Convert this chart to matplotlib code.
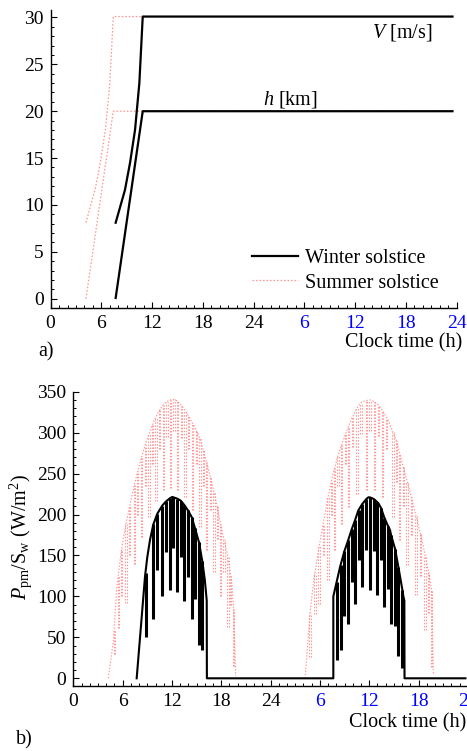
import matplotlib
matplotlib.use("Agg")
import matplotlib.pyplot as plt
from matplotlib.ticker import MultipleLocator
import numpy as np

plt.rcParams['font.family'] = ['Liberation Serif', 'DejaVu Serif']
plt.rcParams['mathtext.fontset'] = 'custom'
plt.rcParams['mathtext.rm'] = 'Liberation Serif'
plt.rcParams['mathtext.it'] = 'Liberation Serif:italic'

# ---------------- data: panel a ----------------
xtick_vals = [0, 6, 12, 18, 24, 30, 36, 42, 48]
xtick_labels = ['0', '6', '12', '18', '24', '6', '12', '18', '24']
xtick_colors = ['black'] * 5 + ['blue'] * 4

winter_V_t = [7.69, 8.79, 9.39, 9.98, 10.49, 10.89, 47.5]
winter_V = [8.1, 11.6, 14.5, 18.0, 23.0, 30.1, 30.1]
winter_h_t = [7.69, 10.89, 47.5]
winter_h = [0.07, 20.0, 20.0]
summer_V_t = [4.18, 5.3, 5.9, 6.5, 7.0, 7.41, 47.5]
summer_V = [8.1, 11.8, 14.6, 18.2, 23.0, 30.1, 30.1]
summer_h_t = [4.18, 7.41, 47.5]
summer_h = [0.0, 20.0, 20.0]

# ---------------- data: panel b ----------------
# winter envelope (two days + night)
w_env_t = [7.71, 8.72, 9.0, 9.33, 9.74, 10.22, 10.83, 11.28, 11.77, 12.04, 12.62,
           13.06, 13.47, 13.95, 14.40, 14.81, 15.29, 15.69, 16.0, 16.23, 16.25,
           31.63, 31.63, 32.04, 32.45, 32.97, 33.45, 33.87, 34.27, 34.67, 35.16,
           35.65, 35.89, 36.09, 36.54, 37.1, 37.43, 37.84, 38.28, 38.53, 38.65,
           39.14, 39.54, 40.03, 40.15, 40.27, 40.29, 47.7]
w_env_p = [0, 124, 148, 169, 188, 201, 211, 216, 220, 221.5, 219.5,
           217, 212, 205, 197, 183, 166, 143, 120, 95, 0,
           0, 100, 118, 136, 155, 169, 182, 193, 205, 213,
           219, 221, 221, 219, 214, 208, 196, 186, 181, 175,
           158, 136, 108, 100, 95, 0, 0]
# winter shading spikes
w_sp_t = [8.81, 9.74, 10.22, 10.83, 11.28, 11.77, 12.17, 12.62, 13.06, 13.47,
          13.95, 14.40, 14.81, 15.29, 15.69,
          32.04, 32.53, 32.97, 33.45, 33.87, 34.27, 34.8, 35.16, 35.65, 36.09,
          36.54, 36.98, 37.43, 37.84, 38.28, 38.65, 39.14, 39.54, 40.03]
w_sp_lo = [51, 72, 132, 100, 154, 108, 159, 106, 148, 95,
           124, 73, 97, 41, 34,
           22, 34, 76, 66, 118, 91, 144, 112, 157, 108,
           156, 102, 144, 87, 109, 66, 64, 27, 12]
w_sp_hi = [128, 188, 201, 211, 216, 220, 221, 219.5, 217, 212,
           205, 197, 183, 166, 143,
           118, 138, 155, 169, 182, 193, 206, 213, 219, 221,
           219, 215, 208, 196, 186, 175, 158, 136, 108]

# summer envelope, day 1 and day 2
s1_env_t = [4.26, 4.87, 5.28, 5.7, 6.08, 6.5, 6.9, 7.3, 7.71, 8.1, 8.5, 8.9, 9.33,
            9.8, 10.34, 10.85, 11.36, 12.1, 12.6, 13.0, 13.4, 13.8, 14.2, 14.8,
            15.4, 15.8, 16.2, 16.6, 17.0, 17.45, 17.85, 18.25, 18.66, 19.0, 19.27,
            19.5, 19.75]
s1_env_p = [0, 45, 110, 145, 171, 193, 212, 231, 248, 263, 277, 290, 301,
            314, 325, 333, 338, 341, 339, 335, 330, 324, 317, 306,
            293, 279, 264, 249, 232, 212, 191, 173, 155, 136, 118,
            85, 3]
s2_env_t = [28.2, 28.8, 29.2, 29.8, 30.4, 31.0, 31.6, 32.2, 32.85, 33.4, 34.0, 34.5,
            34.9, 35.5, 36.1, 36.6, 37.2, 37.8, 38.3, 38.8, 39.3, 39.8, 40.35,
            40.9, 41.4, 41.9, 42.4, 42.7, 43.0, 43.3, 43.6, 43.8]
s2_env_p = [0, 80, 116, 155, 189, 222, 250, 272, 291, 306, 320, 330,
            336, 339, 340, 338, 333, 324, 315, 303, 290, 271, 250,
            230, 210, 190, 169, 155, 140, 125, 108, 4]
# summer shading spikes
s_sp_t = [5.0, 5.47, 5.9, 6.41, 6.85, 7.42, 7.85, 8.32, 8.75, 9.21, 9.65, 10.06,
          10.5, 10.95, 11.4, 11.85, 12.25, 12.7, 13.15, 13.6, 14.05, 14.5, 14.95,
          15.4, 15.8, 16.2, 16.65, 17.1, 17.5, 17.9, 18.35, 18.8, 19.15, 19.5,
          28.8, 29.4, 29.9, 30.4, 31.0, 31.4, 31.8, 32.2, 32.65, 33.1, 33.5,
          34.0, 34.5, 35.0, 35.7, 36.1, 36.6, 37.1, 37.6, 38.1, 38.9, 39.3,
          39.7, 40.15, 40.6, 41.1, 41.7, 42.2, 42.8, 43.2, 43.6]
s_sp_lo = [30, 61, 100, 92, 150, 140, 200, 173, 235, 197, 262, 216,
           280, 230, 295, 232, 302, 230, 294, 222, 280, 205, 262,
           185, 235, 157, 205, 130, 170, 100, 130, 63, 90, 15,
           26, 79, 91, 150, 120, 200, 157, 235, 189, 262, 209,
           282, 225, 298, 230, 302, 230, 296, 222, 280, 197, 240,
           169, 210, 138, 175, 102, 125, 59, 80, 14]
s_sp_hi = [60, 125, 158, 189, 210, 236, 253, 271, 285, 298, 310, 319,
           328, 334, 338, 340, 341, 339, 333, 327, 320, 312, 303,
           293, 279, 264, 247, 228, 210, 189, 169, 148, 125, 85,
           80, 128, 161, 189, 222, 241, 257, 272, 285, 298, 308,
           320, 330, 336, 339, 340, 338, 334, 327, 318, 301, 290,
           275, 258, 241, 222, 198, 177, 150, 130, 108]

PINK = '#ff9696'
DOT = (0, (1.3, 1.5))
FS = 14.5
TFS = 14

W, H = 467, 751
fig = plt.figure(figsize=(W / 100, H / 100), dpi=100)


def px_axes(x0, x1, y_top, y_bot):
    return fig.add_axes([x0 / W, 1 - y_bot / H, (x1 - x0) / W, (y_bot - y_top) / H])


def style(ax):
    ax.spines['top'].set_visible(False)
    ax.spines['right'].set_visible(False)
    for s in ('left', 'bottom'):
        ax.spines[s].set_linewidth(1.0)
    ax.set_xlim(0, 48)
    ax.set_xticks(xtick_vals)
    ax.set_xticklabels(xtick_labels)
    for lab, c in zip(ax.get_xticklabels(), xtick_colors):
        lab.set_color(c)
    ax.xaxis.set_minor_locator(MultipleLocator(1))
    ax.tick_params(which='major', direction='in', length=4, width=0.8,
                   labelsize=TFS, pad=5)
    ax.tick_params(which='minor', direction='in', length=2, width=0.7)
    ax.patch.set_alpha(0)


# ---------------- panel a ----------------
ax1 = px_axes(50.6, 456.7, 10, 308)
style(ax1)
ax1.set_ylim(-1, 30.8)
ax1.yaxis.set_major_locator(MultipleLocator(5))
ax1.yaxis.set_minor_locator(MultipleLocator(1))
ax1.plot(summer_V_t, summer_V, color=PINK, lw=0.9, ls=DOT, zorder=2)
ax1.plot(summer_h_t, summer_h, color=PINK, lw=0.9, ls=DOT, zorder=2,
         label='Summer solstice')
ax1.plot(winter_V_t, winter_V, color='black', lw=1.6, zorder=3)
ax1.plot(winter_h_t, winter_h, color='black', lw=1.6, zorder=3,
         label='Winter solstice')
ax1.text(38.0, 28.4, r'$V$ [m/s]', fontsize=FS, ha='left', va='center')
ax1.text(25.1, 21.2, r'$h$ [km]', fontsize=FS, ha='left', va='center')
h, l = ax1.get_legend_handles_labels()
ax1.legend(h[::-1], l[::-1], loc='lower left', bbox_to_anchor=(0.496, 0.052),
           frameon=False, fontsize=FS, handlelength=2.3, handletextpad=0.35,
           labelspacing=0.25, borderpad=0, borderaxespad=0)
ax1.set_xlabel('Clock time (h)', fontsize=FS, ha='right')
ax1.xaxis.set_label_coords(1.0125, -0.117)
ax1.xaxis.label.set_va('center')
fig.text(46 / W, 1 - 352 / H, 'a)', fontsize=FS, ha='center', va='center')

# ---------------- panel b ----------------
ax2 = px_axes(73.3, 467.9, 391.7, 686)
style(ax2)
ax2.set_ylim(-9.4, 350)
ax2.yaxis.set_major_locator(MultipleLocator(50))
ax2.yaxis.set_minor_locator(MultipleLocator(10))
ax2.plot(s1_env_t, s1_env_p, color=PINK, lw=0.8, ls=DOT, zorder=2)
ax2.plot(s2_env_t, s2_env_p, color=PINK, lw=0.8, ls=DOT, zorder=2)
s_t = np.asarray(s_sp_t)
ax2.vlines(s_t - 0.08, s_sp_lo, s_sp_hi, colors=PINK, lw=0.8,
           linestyles=[DOT], zorder=2)
ax2.vlines(s_t + 0.08, s_sp_lo, s_sp_hi, colors=PINK, lw=0.8,
           linestyles=[DOT], zorder=2)
ax2.plot(w_env_t, w_env_p, color='black', lw=1.5, zorder=3)
ax2.vlines(w_sp_t, w_sp_lo, w_sp_hi, colors='black', lw=2.2, zorder=3)
ax2.set_xlabel('Clock time (h)', fontsize=FS, ha='right')
ax2.xaxis.set_label_coords(0.995, -0.126)
ax2.xaxis.label.set_va('center')
fig.text(21 / W, 1 - 537 / H, r'$P_{\rm pm}$/S$_{\rm w}$ (W/m$^2$)', fontsize=14.5,
         rotation=90, ha='center', va='center')
fig.text(24 / W, 1 - 740 / H, 'b)', fontsize=FS, ha='center', va='center')

fig.savefig('out.png', dpi=100)
